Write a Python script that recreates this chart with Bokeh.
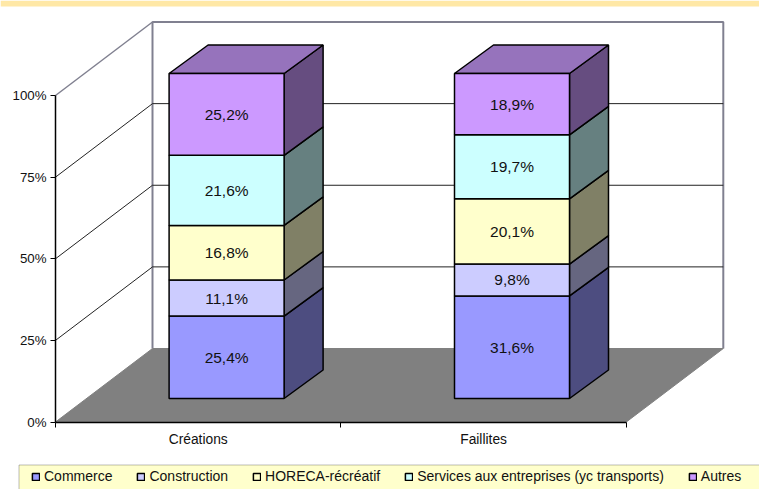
from bokeh.plotting import figure
from bokeh.models import (BoxAnnotation, Legend, LegendItem, FixedTicker, Range1d, LinearAxis)
from bokeh.core.properties import value
from bokeh.embed import file_html
from bokeh.resources import INLINE

categories = ["Créations", "Faillites"]
series = ["Commerce", "Construction", "HORECA-récréatif",
          "Services aux entreprises (yc transports)", "Autres"]
creations = [25.4, 11.1, 16.8, 21.6, 25.2]
faillites = [31.6, 9.8, 20.1, 19.7, 18.9]
labels_creations = ["25,4%", "11,1%", "16,8%", "21,6%", "25,2%"]
labels_faillites = ["31,6%", "9,8%", "20,1%", "19,7%", "18,9%"]
y_ticks = [0, 25, 50, 75, 100]
front_colors = ["#9999FF", "#CCCCFF", "#FFFFCC", "#CCFFFF", "#CC99FF"]
side_colors = ["#4D4D80", "#666680", "#808066", "#668080", "#664D80"]
top_color = "#9673BC"

W, H = 759, 489
LEFT, BOTTOM = 55, 67.5
PX_X = 285.4      # pixels per category
PX_Y = 3.265      # pixels per percent
WALL_DX, WALL_DY = 97 / PX_X, 73.5 / PX_Y
BAR_OX, BAR_OY = 28.4 / PX_X, 23.5 / PX_Y
BAR_W = 115 / PX_X
BAR_DX, BAR_DY = 39 / PX_X, 28.5 / PX_Y
BAR_SCALE = 325 / 326.5
FONT = "Liberation Sans"

x_start = -LEFT / PX_X
y_start = -BOTTOM / PX_Y
p = figure(width=W, height=H, output_backend="svg", toolbar_location=None,
           x_axis_type=None, y_axis_type=None,
           x_range=Range1d(x_start, (W - LEFT) / PX_X),
           y_range=Range1d(y_start, (H - BOTTOM) / PX_Y),
           min_border=0, margin=0)
p.grid.visible = False
p.outline_line_color = None
p.background_fill_color = "white"

# back wall
xn = float(len(categories))
p.line([WALL_DX, WALL_DX, xn + WALL_DX, xn + WALL_DX],
       [WALL_DY, 100 + WALL_DY, 100 + WALL_DY, WALL_DY], line_color="#808090", line_width=2)
p.line([0, WALL_DX], [100, 100 + WALL_DY], line_color="#808090", line_width=1.5)
inner = y_ticks[1:-1]
p.multi_line([[0, WALL_DX, xn + WALL_DX] for t in inner],
             [[t, t + WALL_DY, t + WALL_DY] for t in inner], line_color="#222222", line_width=1)
# floor
p.patch([0, xn, xn + WALL_DX, WALL_DX], [0, 0, WALL_DY, WALL_DY],
        fill_color="#808080", line_color="#808080", line_width=1)

# bars
renderers = []
def stacks(vals):
    total = sum(vals)
    out, acc = [], 0
    for v in vals:
        out.append((acc / total * 100 * BAR_SCALE, (acc + v) / total * 100 * BAR_SCALE))
        acc += v
    return out

sc, sf = stacks(creations), stacks(faillites)
for i, name in enumerate(series):
    fx, fy, sx, sy, tx, ty, lx, ly, lt = [], [], [], [], [], [], [], [], []
    for c, (rows, labs) in enumerate(((sc, labels_creations), (sf, labels_faillites))):
        y0, y1 = rows[i]
        cx = c + 0.5 + BAR_OX
        x0, x1 = cx - BAR_W / 2, cx + BAR_W / 2
        y0, y1 = y0 + BAR_OY, y1 + BAR_OY
        fx.append([x0, x1, x1, x0]); fy.append([y0, y0, y1, y1])
        sx.append([x1, x1 + BAR_DX, x1 + BAR_DX, x1])
        sy.append([y0, y0 + BAR_DY, y1 + BAR_DY, y1])
        tx.append([x0, x1, x1 + BAR_DX, x0 + BAR_DX])
        ty.append([y1, y1, y1 + BAR_DY, y1 + BAR_DY])
        lx.append(cx); ly.append((y0 + y1) / 2); lt.append(labs[i])
    p.patches(sx, sy, fill_color=side_colors[i], line_color="black", line_width=1.5)
    if i == len(series) - 1:
        p.patches(tx, ty, fill_color=top_color, line_color="black", line_width=1.5)
    r = p.patches(fx, fy, fill_color=front_colors[i], line_color="black", line_width=1.5)
    renderers.append(r)
    p.text(lx, ly, text=lt, text_align="center", text_baseline="middle",
           text_font=value(FONT), text_font_size="15.5px", text_color="#111111")

# axes
ya = LinearAxis(ticker=FixedTicker(ticks=y_ticks), bounds=(0, 100), fixed_location=0,
                major_label_overrides={t: f"{t}%" for t in y_ticks})
ya.major_tick_in = 0; ya.major_tick_out = 5; ya.minor_tick_out = 0; ya.minor_tick_in = 0
ya.axis_line_color = "black"; ya.major_tick_line_color = "black"; ya.axis_line_width = 1.5
ya.major_label_text_font = FONT; ya.major_label_text_font_size = "13.3px"
ya.major_label_text_color = "#111111"; ya.major_label_standoff = 4
p.add_layout(ya, "left")

centers = [c + 0.5 for c in range(len(categories))]
xa = LinearAxis(ticker=FixedTicker(ticks=centers, minor_ticks=list(range(len(categories) + 1))),
                bounds=(0, xn), fixed_location=0,
                major_label_overrides={c: n for c, n in zip(centers, categories)})
xa.major_tick_in = 0; xa.major_tick_out = 0; xa.minor_tick_in = 0; xa.minor_tick_out = 5
xa.axis_line_color = "black"; xa.minor_tick_line_color = "black"; xa.axis_line_width = 1.5
xa.major_label_text_font = FONT; xa.major_label_text_font_size = "13.8px"
xa.major_label_text_color = "#111111"; xa.major_label_standoff = 5
p.add_layout(xa, "below")

# top band and legend background
p.add_layout(BoxAnnotation(left=0, right=W, top=0, bottom=6, left_units="canvas", right_units="canvas",
                           top_units="canvas", bottom_units="canvas",
                           fill_color="#FFE8A6", fill_alpha=1, line_color=None))
p.add_layout(BoxAnnotation(left=18.5, right=W + 10, top=464.5, bottom=H + 10, left_units="canvas",
                           right_units="canvas", top_units="canvas", bottom_units="canvas",
                           fill_color="#FFFFCC", fill_alpha=1, line_color="#222222", line_width=1))

legend = Legend(items=[LegendItem(label=s, renderers=[r]) for s, r in zip(series, renderers)],
                orientation="horizontal", location=(31, 5), spacing=24, padding=0, margin=0,
                glyph_width=9, glyph_height=9, label_standoff=4, label_text_font=FONT,
                label_text_font_size="14px", label_text_color="#111111",
                background_fill_alpha=0, border_line_color=None)
p.add_layout(legend, "center")

open("out.html", "w").write(file_html(p, INLINE))
